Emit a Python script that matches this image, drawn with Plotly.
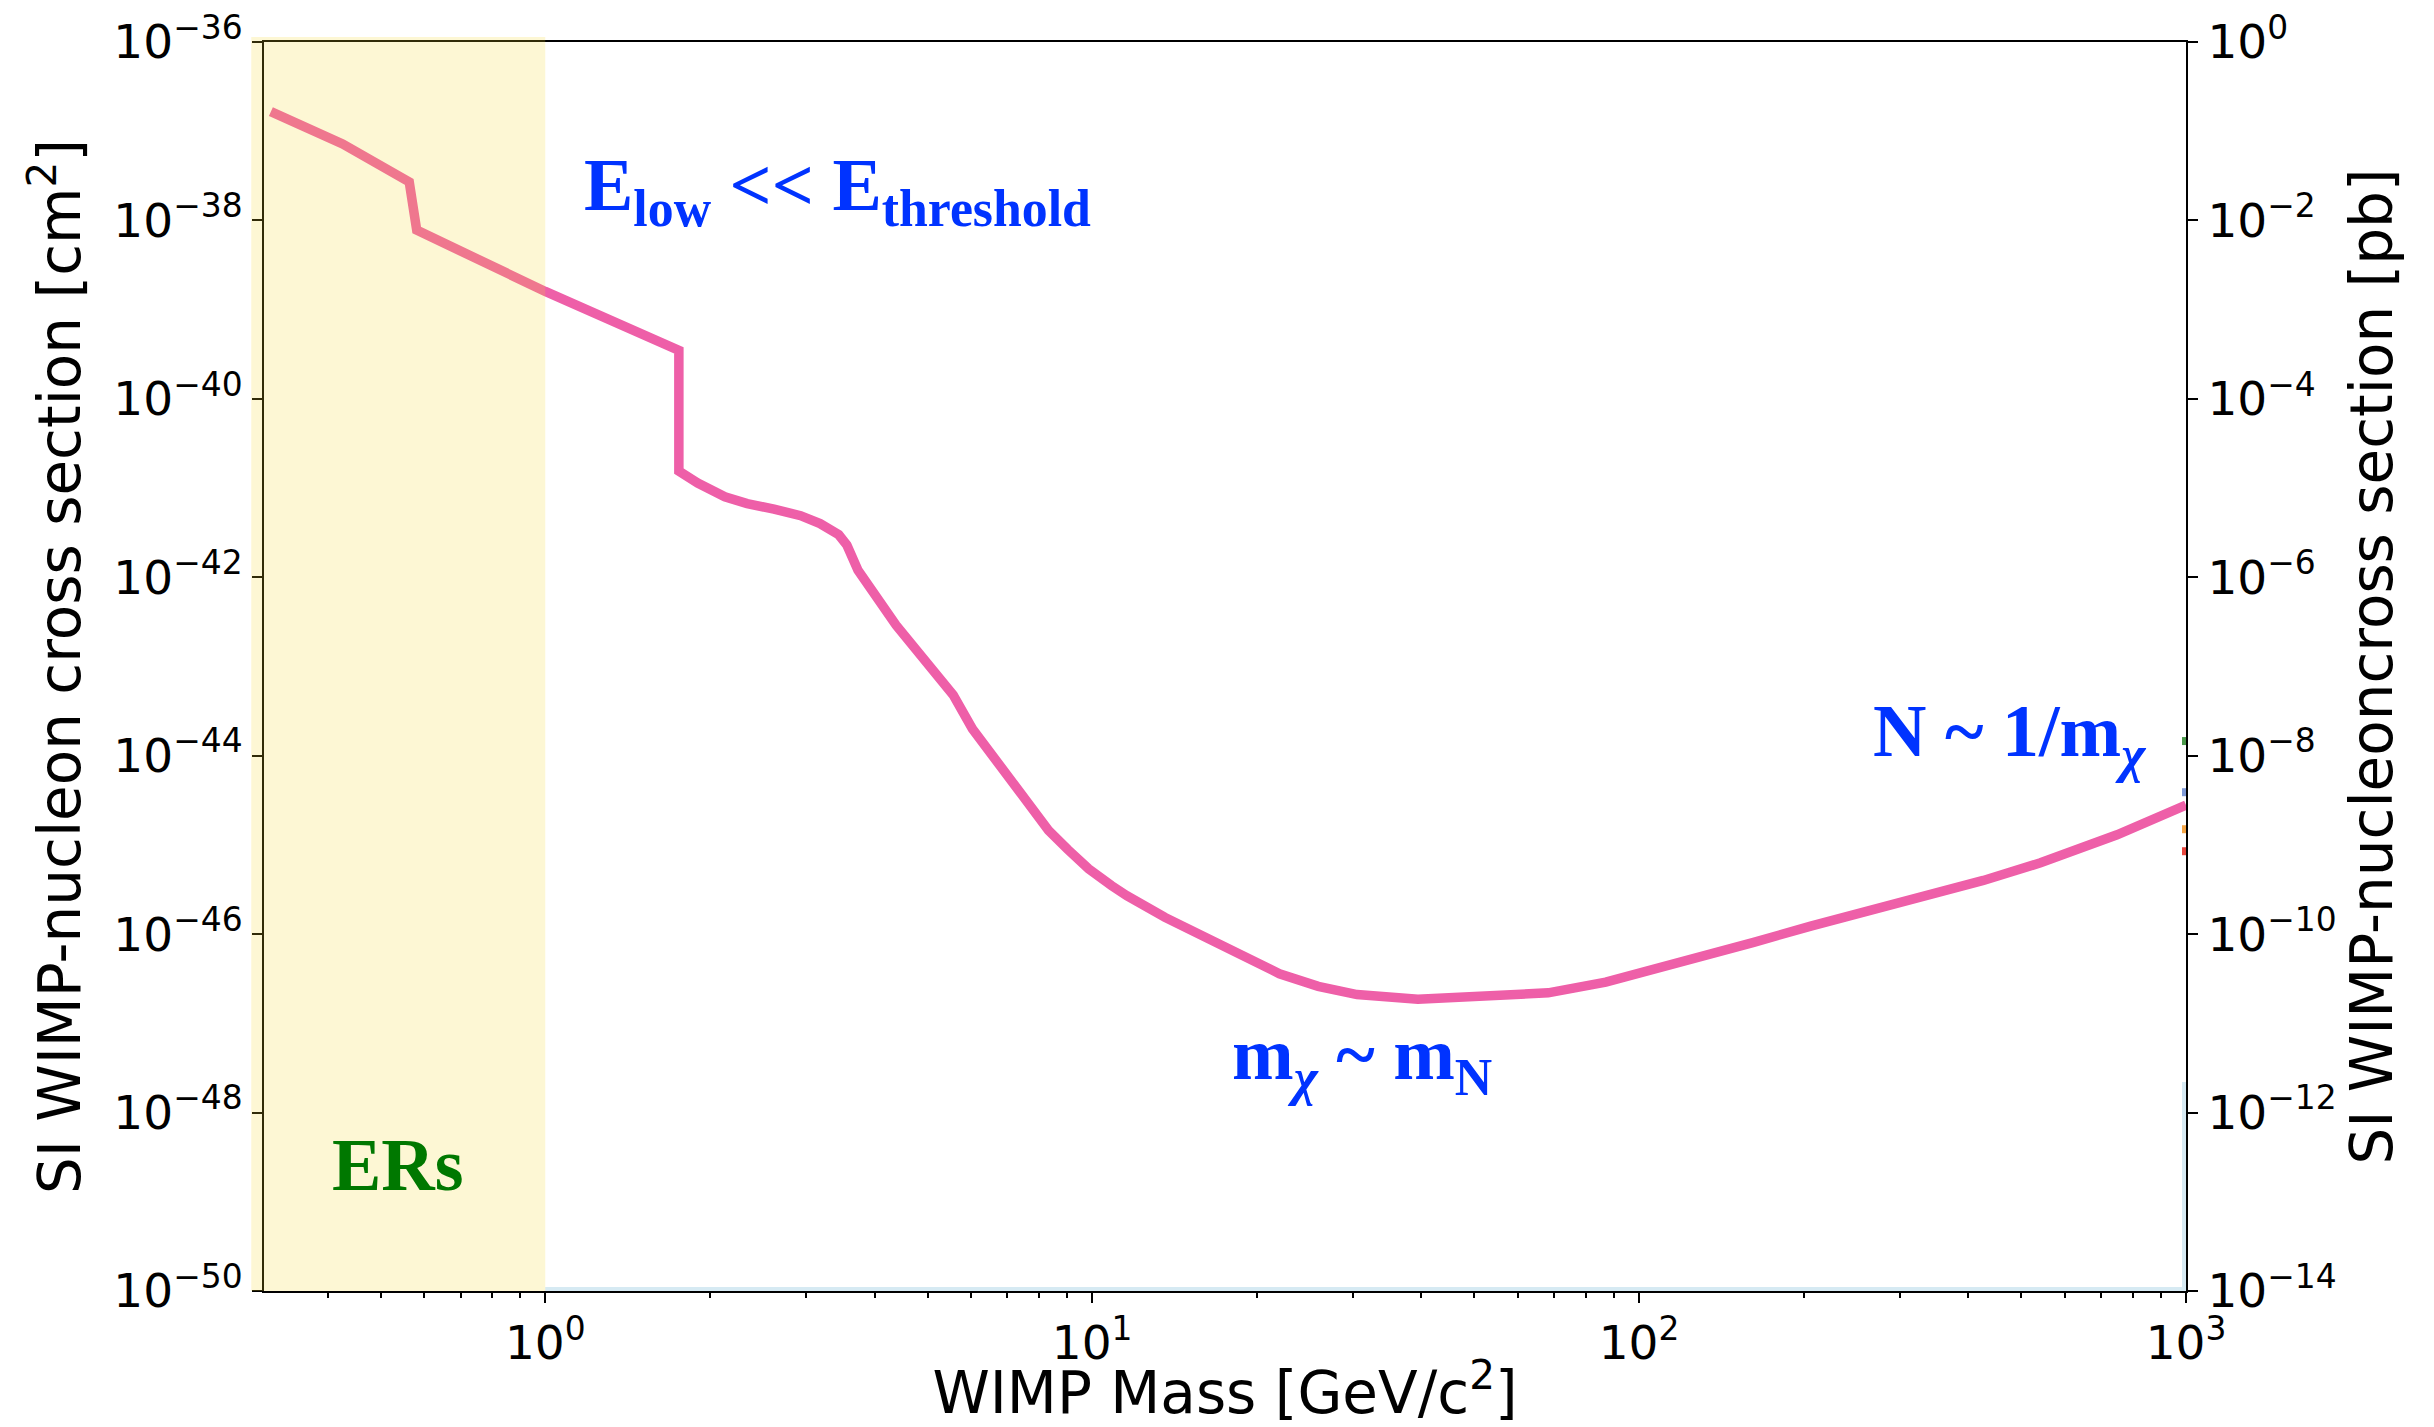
import math
import plotly.graph_objects as go

# ---------------- data ----------------
mass_gev = [0.315, 0.426, 0.564, 0.582, 1.0, 1.755, 1.755, 1.90, 2.13, 2.34, 2.62, 2.93,
            3.18, 3.44, 3.56, 3.73, 4.38, 4.74, 5.57, 6.04, 7.08, 8.32, 9.02, 9.85,
            10.85, 11.57, 13.59, 15.97, 18.78, 22.0, 25.9, 30.5, 39.4, 49.4, 68.2,
            86.9, 99.7, 127.0, 162.0, 206.0, 262.0, 334.0, 426.0, 542.0, 748.0, 1000.0]
sigma_cm2 = [1.66e-37, 7.2e-38, 2.7e-38, 7.8e-39, 1.6e-39, 3.5e-40, 1.55e-41, 1.14e-41,
             8.0e-42, 6.7e-42, 5.8e-42, 4.9e-42, 4.0e-42, 3.0e-42, 2.3e-42, 1.2e-42,
             2.9e-43, 1.6e-43, 4.8e-44, 2.0e-44, 5.4e-45, 1.46e-45, 8.9e-46, 5.4e-46,
             3.5e-46, 2.7e-46, 1.54e-46, 9.6e-47, 5.7e-47, 3.6e-47, 2.6e-47, 2.1e-47,
             1.86e-47, 1.95e-47, 2.2e-47, 2.9e-47, 3.6e-47, 5.2e-47, 8.1e-47, 1.23e-46,
             1.8e-46, 2.7e-46, 4.0e-46, 6.3e-46, 1.3e-45, 2.8e-45]

# other curves that only just enter the frame at the right edge
edge_mass = [1000.0, 1000.0, 1000.0, 1000.0]
edge_sigma = [1.46e-44, 3.9e-45, 1.5e-45, 8.5e-46]
edge_colors = ["#4c9a4c", "#7f9bd8", "#f5a646", "#e8473e"]

# light-blue region barely visible along bottom / right edges
fog_mass = [1.0, 1000.0, 1000.0]
fog_sigma = [1e-50, 1e-50, 2.2e-48]

er_band = [0.29, 1.0]

x_tickvals = [1, 10, 100, 1000]
x_ticktext = ["10<sup>0</sup>", "10<sup>1</sup>", "10<sup>2</sup>", "10<sup>3</sup>"]
y_exps = [-36, -38, -40, -42, -44, -46, -48, -50]
y_tickvals = [10.0 ** e for e in y_exps]
y_ticktext = ["10<sup>\u2212%d</sup>" % (-e) for e in y_exps]
y2_exps = [0, -2, -4, -6, -8, -10, -12, -14]
y2_tickvals = [10.0 ** e for e in y2_exps]
y2_ticktext = ["10<sup>0</sup>"] + ["10<sup>\u2212%d</sup>" % (-e) for e in y2_exps[1:]]

x_min = 0.306
x_max = 1000.0

# ---------------- figure ----------------
fig = go.Figure()

fig.add_trace(go.Scatter(x=fog_mass, y=fog_sigma, mode="lines",
                         line=dict(color="#d6eaf3", width=8),
                         hoverinfo="skip", showlegend=False))

for m, s, c in zip(edge_mass, edge_sigma, edge_colors):
    fig.add_trace(go.Scatter(x=[m], y=[s], mode="markers",
                             marker=dict(symbol="square", size=8, color=c, line=dict(width=0)),
                             hoverinfo="skip", showlegend=False))

fig.add_trace(go.Scatter(x=mass_gev, y=sigma_cm2, mode="lines",
                         line=dict(color="#EE5FA8", width=9.5),
                         hoverinfo="skip", showlegend=False))

# dummy trace to activate the right axis
fig.add_trace(go.Scatter(x=[10], y=[1e-10], yaxis="y2", mode="markers",
                         marker=dict(opacity=0), hoverinfo="skip", showlegend=False))

# ER band (semi-transparent overlay, slightly overhanging the frame like the original)
lo, hi = math.log10(x_min), math.log10(x_max)
band_x1 = (math.log10(er_band[1]) - lo) / (hi - lo)
band_x0 = (math.log10(er_band[0]) - lo) / (hi - lo)
fig.add_shape(type="rect", xref="paper", yref="paper", x0=band_x0, x1=band_x1,
              y0=0, y1=1.004, fillcolor="rgba(245,215,40,0.2)", line=dict(width=0),
              layer="above")

tick_font = dict(family="DejaVu Sans", size=47, color="black")
title_font = dict(family="DejaVu Sans", size=58, color="black")
ann_font_blue = dict(family="Liberation Serif", size=74, color="#0033ff")

fig.update_layout(
    width=2434, height=1427,
    margin=dict(l=264, r=248, t=42, b=136, autoexpand=False),
    paper_bgcolor="white", plot_bgcolor="white",
    xaxis=dict(type="log", range=[lo, hi], automargin=False,
               tickvals=x_tickvals, ticktext=x_ticktext, tickfont=tick_font,
               ticks="outside", ticklen=10, tickwidth=2, tickcolor="black",
               minor=dict(ticks="outside", ticklen=5, tickwidth=1.5, tickcolor="black",
                          dtick="D1", showgrid=False),
               showline=True, linecolor="black", linewidth=2, mirror=True,
               showgrid=False, zeroline=False,
               title=dict(text="WIMP Mass [GeV/c<sup>2</sup>]", font=title_font, standoff=11)),
    yaxis=dict(type="log", range=[-50, -36], tickvals=y_tickvals, ticktext=y_ticktext,
               automargin=False,
               tickfont=tick_font, ticks="outside", ticklen=10, tickwidth=2, tickcolor="black",
               showline=True, linecolor="black", linewidth=2,
               showgrid=False, zeroline=False,
               title=dict(text="SI WIMP-nucleon cross section [cm<sup>2</sup>]",
                          font=title_font, standoff=14)),
    yaxis2=dict(type="log", range=[-14, 0], overlaying="y", side="right", anchor="x",
                tickvals=y2_tickvals, ticktext=y2_ticktext, automargin=False,
                tickfont=tick_font, ticks="outside", ticklen=10, tickwidth=2, tickcolor="black",
                showline=True, linecolor="black", linewidth=2,
                showgrid=False, zeroline=False,
                title=dict(text="SI WIMP-nucleoncross section [pb]", font=title_font, standoff=16)),
    showlegend=False,
)

# annotations (x positions given in log10 for log axes)
fig.add_annotation(x=0.534, y=-37.66, xref="x", yref="y",
                   text="<b>E<sub>low</sub> &lt;&lt; E<sub>threshold</sub></b>",
                   showarrow=False, font=ann_font_blue, xanchor="center", yanchor="middle")
fig.add_annotation(x=1.494, y=-47.40, xref="x", yref="y",
                   text="<b>m<sub><i>\u03c7</i></sub> ~ m<sub>N</sub></b>",
                   showarrow=False, font=ann_font_blue, xanchor="center", yanchor="middle")
fig.add_annotation(x=2.678, y=-43.78, xref="x", yref="y",
                   text="<b>N ~ 1/m<sub><i>\u03c7</i></sub></b>",
                   showarrow=False, font=ann_font_blue, xanchor="center", yanchor="middle")
fig.add_annotation(x=-0.269, y=-48.59, xref="x", yref="y",
                   text="<b>ERs</b>",
                   showarrow=False, font=dict(family="Liberation Serif", size=74, color="#007800"),
                   xanchor="center", yanchor="middle")

fig.write_html("out.html")
